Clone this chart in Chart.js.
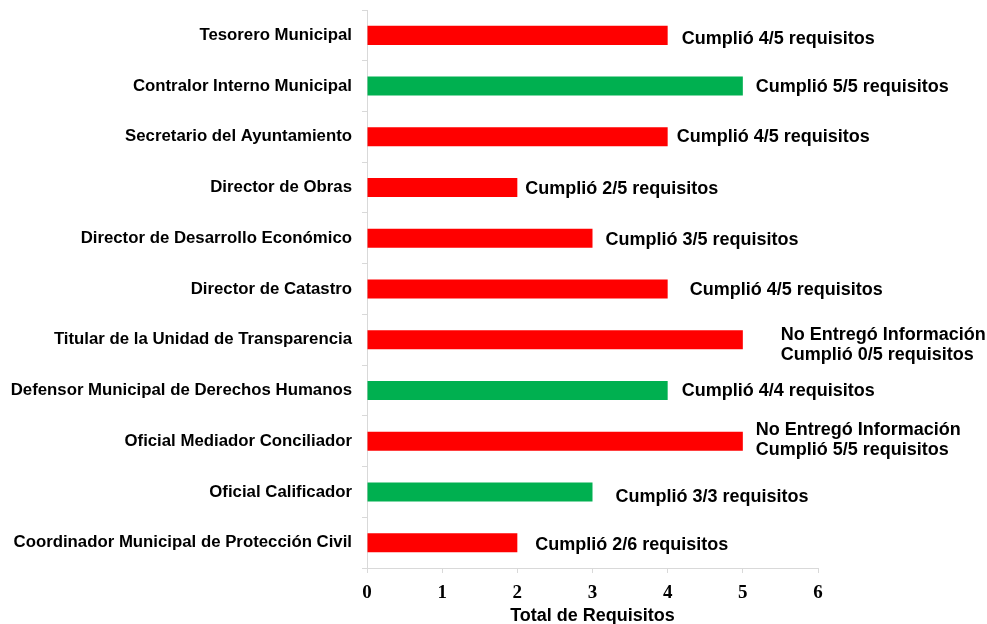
<!DOCTYPE html>
<html>
<head>
<meta charset="utf-8">
<script src="https://cdn.jsdelivr.net/npm/chart.js@4"></script>
<style>
  html, body { margin: 0; padding: 0; background: #fff; }
  #wrap { width: 987px; height: 624px; }
</style>
</head>
<body>
<div id="wrap"><canvas id="c"></canvas></div>
<script>
// Cargos evaluados
const categories = [
  'Tesorero Municipal',
  'Contralor Interno Municipal',
  'Secretario del Ayuntamiento',
  'Director de Obras',
  'Director de Desarrollo Económico',
  'Director de Catastro',
  'Titular de la Unidad de Transparencia',
  'Defensor Municipal de Derechos Humanos',
  'Oficial Mediador Conciliador',
  'Oficial Calificador',
  'Coordinador Municipal de Protección Civil'
];

// Total de requisitos por cargo
const totals = [4, 5, 4, 2, 3, 4, 5, 4, 5, 3, 2];

// Cumplimiento completo (verde) o incompleto (rojo)
const complete = [false, true, false, false, false, false, false, true, false, true, false];

// Texto junto a cada barra
const barLabels = [
  ['Cumplió 4/5 requisitos'],
  ['Cumplió 5/5 requisitos'],
  ['Cumplió 4/5 requisitos'],
  ['Cumplió 2/5 requisitos'],
  ['Cumplió 3/5 requisitos'],
  ['Cumplió 4/5 requisitos'],
  ['No Entregó Información', 'Cumplió 0/5 requisitos'],
  ['Cumplió 4/4 requisitos'],
  ['No Entregó Información', 'Cumplió 5/5 requisitos'],
  ['Cumplió 3/3 requisitos'],
  ['Cumplió 2/6 requisitos']
];

const xTicks = [0, 1, 2, 3, 4, 5, 6];

// Desplazamiento (px) de cada texto respecto al extremo de su barra
const labelDx = [14, 13, 9, 8, 13, 22, 38, 14, 13, 23, 18];
const labelDy = [4, 1, 0, 1, 2, 1, 5, 1, -1, 5, 2];

const RED = '#FF0000';
const GREEN = '#00B050';
const AXIS = '#d9d9d9';

const barText = {
  id: 'barText',
  afterDatasetsDraw(chart) {
    const ctx = chart.ctx;
    const meta = chart.getDatasetMeta(0);
    ctx.save();
    ctx.font = 'bold 18px "Liberation Sans", Arial, sans-serif';
    ctx.fillStyle = '#000';
    ctx.textAlign = 'left';
    ctx.textBaseline = 'middle';
    meta.data.forEach((bar, i) => {
      const lines = barLabels[i];
      const lh = 20;
      const y0 = bar.y + labelDy[i] - (lines.length - 1) * lh / 2;
      lines.forEach((t, k) => ctx.fillText(t, bar.x + labelDx[i], y0 + k * lh));
    });
    ctx.restore();
  }
};

new Chart(document.getElementById('c'), {
  type: 'bar',
  data: {
    labels: categories,
    datasets: [{
      data: totals,
      backgroundColor: complete.map(c => c ? GREEN : RED),
      borderWidth: 0,
      barPercentage: 0.75,
      categoryPercentage: 0.5
    }]
  },
  options: {
    indexAxis: 'y',
    responsive: true,
    maintainAspectRatio: false,
    animation: false,
    events: [],
    layout: { padding: { top: 10, right: 169, bottom: 0, left: 0 } },
    plugins: { legend: { display: false }, tooltip: { enabled: false } },
    scales: {
      x: {
        min: 0,
        max: 6,
        afterBuildTicks(scale) { scale.ticks = xTicks.map(v => ({ value: v })); },
        afterFit(scale) { scale.height = 56; },
        grid: { drawOnChartArea: false, drawTicks: true, tickLength: 5, color: AXIS },
        border: { color: AXIS, width: 1 },
        ticks: {
          padding: 9,
          color: '#000',
          font: { family: '"Liberation Serif", "Times New Roman", serif', size: 19, weight: 'bold' }
        },
        title: {
          display: true,
          text: 'Total de Requisitos',
          color: '#000',
          padding: { top: 0, bottom: -3 },
          font: { family: '"Liberation Sans", Arial, sans-serif', size: 18, weight: 'bold' }
        }
      },
      y: {
        afterFit(scale) {
          scale.width = 367;
          scale.paddingTop = 0;
          scale.paddingBottom = 0;
        },
        grid: { drawOnChartArea: false, drawTicks: true, tickLength: 5, color: AXIS, offset: true },
        border: { color: AXIS, width: 1 },
        ticks: {
          padding: 10,
          color: '#000',
          font: { family: '"Liberation Sans", Arial, sans-serif', size: 16.8, weight: 'bold' }
        }
      }
    }
  },
  plugins: [barText]
});
</script>
</body>
</html>
